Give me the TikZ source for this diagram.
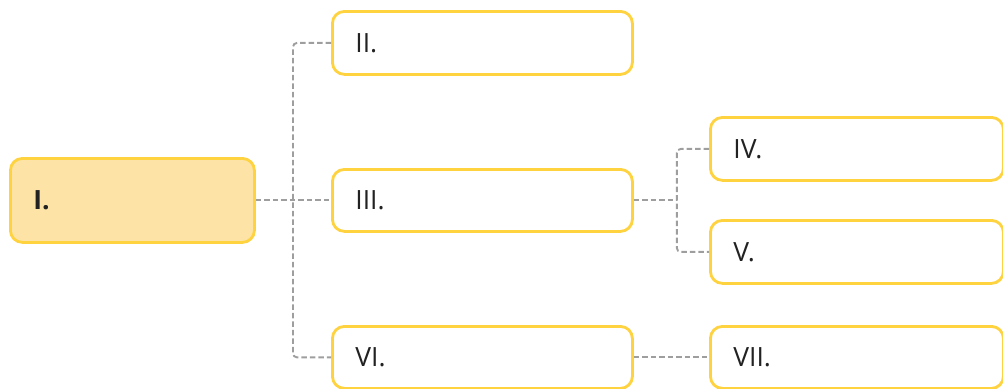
\documentclass[tikz,border=0pt]{standalone}
\usepackage{fontspec}
\setmainfont{Open Sans}
\definecolor{boxline}{HTML}{FFD23F}
\definecolor{rootfill}{HTML}{FDE4A6}
\definecolor{connc}{HTML}{9E9E9E}
\definecolor{txt}{HTML}{222222}
\begin{document}
\begin{tikzpicture}[x=1pt,y=-1pt,
  box/.style={draw=boxline, line width=2.8pt, rounded corners=12pt, fill=white,
    anchor=north west, inner xsep=23pt, inner ysep=0pt, align=left, text=txt,
    font=\fontsize{26.5}{30}\selectfont},
  conn/.style={draw=connc, line width=1.9pt, dash pattern=on 5.5pt off 3pt}]
\useasboundingbox (0,0) rectangle (1003,388);
\node[box, fill=rootfill, minimum width=244pt, minimum height=84pt, text width=198pt] (i) at (9,157) {\textbf{I.}};
\node[box, minimum width=300pt, minimum height=63pt, text width=254pt] (ii) at (331,10) {II.};
\node[box, minimum width=300pt, minimum height=62pt, text width=254pt] (iii) at (331,168) {III.};
\node[box, minimum width=300pt, minimum height=62pt, text width=254pt] (vi) at (331,325) {VI.};
\node[box, minimum width=293pt, minimum height=63pt, text width=247pt] (iv) at (709,116) {IV.};
\node[box, minimum width=293pt, minimum height=63pt, text width=247pt] (v) at (709,219) {V.};
\node[box, minimum width=293pt, minimum height=62pt, text width=247pt] (vii) at (709,325) {VII.};
\coordinate (j1) at (293,199);
\draw[conn, rounded corners=4pt] (ii.west) -| (j1) |- (vi.west);
\draw[conn] (i.east) -- (iii.west);
\draw[conn] (iii.east) -- ++(43,0) coordinate (j2);
\draw[conn, rounded corners=4pt] (iv.west) -| (j2) |- (v.west);
\draw[conn] (vi.east) -- (vii.west);
\end{tikzpicture}
\end{document}
